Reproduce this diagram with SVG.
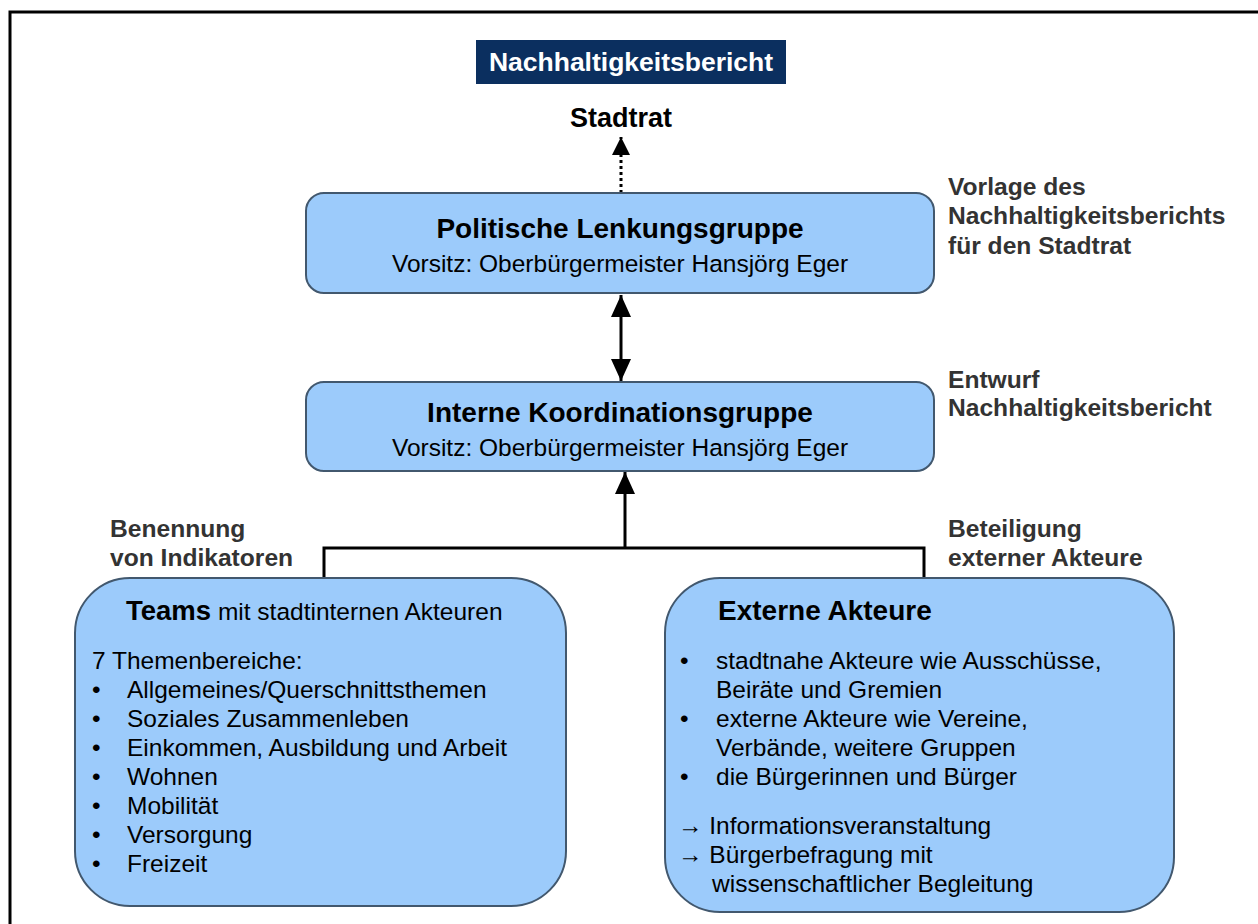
<svg xmlns="http://www.w3.org/2000/svg" width="1258" height="924" viewBox="0 0 1258 924">
<style>
.box{fill:#9ccbfb;stroke:#42586e;stroke-width:2}
.t{font-family:"Liberation Sans",Arial,sans-serif;fill:#000}
.b{font-weight:bold}
.h{font-size:28px;font-weight:bold}
.r{font-size:24.5px}
.lab{font-family:"Liberation Sans",Arial,sans-serif;font-size:24.6px;font-weight:bold;fill:#333}
.ln{stroke:#000;stroke-width:3;fill:none}
</style>
<defs>
<marker id="ah" viewBox="0 0 22 20" refX="22" refY="10" markerWidth="22" markerHeight="20" markerUnits="userSpaceOnUse" orient="auto-start-reverse">
<path d="M0,0 L22,10 L0,20 z" fill="#000"/>
</marker>
<marker id="ahs" viewBox="0 0 18 18" refX="18" refY="9" markerWidth="18" markerHeight="18" markerUnits="userSpaceOnUse" orient="auto-start-reverse">
<path d="M0,0 L18,9 L0,18 z" fill="#000"/>
</marker>
</defs>
<rect width="1258" height="924" fill="#fff"/>
<path d="M10,924 V12 H1258" fill="none" stroke="#000" stroke-width="3"/>

<g id="title">
<rect x="476" y="40" width="310" height="44" fill="#0b2f5f"/>
<text class="t b" x="631" y="71" text-anchor="middle" style="fill:#fff;font-size:26.5px">Nachhaltigkeitsbericht</text>
</g>
<g id="stadtrat">
<text class="t h" x="621" y="127" text-anchor="middle" style="font-size:27px">Stadtrat</text>
</g>

<g id="connectors">
<line x1="621" y1="193" x2="621" y2="137" stroke="#000" stroke-width="3" stroke-dasharray="3,3" marker-end="url(#ahs)"/>
<line x1="621" y1="295" x2="621" y2="381" class="ln" marker-start="url(#ah)" marker-end="url(#ah)"/>
<line x1="625" y1="548" x2="625" y2="472" class="ln" marker-end="url(#ah)"/>
<path class="ln" d="M324,578 V548 H924 V578"/>
</g>

<g id="politische">
<rect class="box" x="306" y="193" width="628" height="100" rx="18"/>
<text class="t h" x="620" y="238" text-anchor="middle">Politische Lenkungsgruppe</text>
<text class="t r" x="620" y="272" text-anchor="middle">Vorsitz: Oberbürgermeister Hansjörg Eger</text>
</g>

<g id="interne">
<rect class="box" x="306" y="382" width="628" height="89" rx="18"/>
<text class="t h" x="620" y="422" text-anchor="middle">Interne Koordinationsgruppe</text>
<text class="t r" x="620" y="456" text-anchor="middle">Vorsitz: Oberbürgermeister Hansjörg Eger</text>
</g>

<g id="label-vorlage">
<text class="lab" x="948" y="195">Vorlage des</text>
<text class="lab" x="948" y="224">Nachhaltigkeitsberichts</text>
<text class="lab" x="948" y="254">für den Stadtrat</text>
</g>
<g id="label-entwurf">
<text class="lab" x="948" y="388">Entwurf</text>
<text class="lab" x="948" y="416">Nachhaltigkeitsbericht</text>
</g>
<g id="label-benennung">
<text class="lab" x="110" y="537">Benennung</text>
<text class="lab" x="110" y="566">von Indikatoren</text>
</g>
<g id="label-beteiligung">
<text class="lab" x="948" y="537">Beteiligung</text>
<text class="lab" x="948" y="566">externer Akteure</text>
</g>

<g id="teams">
<rect class="box" x="75" y="578" width="491" height="328" rx="55"/>
<text class="t r" x="126" y="620"><tspan class="b" style="font-size:27.5px">Teams</tspan> mit stadtinternen Akteuren</text>
<text class="t r" x="92" y="669">7 Themenbereiche:</text>
<g class="t r">
<text x="92" y="698">•</text><text x="127" y="698">Allgemeines/Querschnittsthemen</text>
<text x="92" y="727">•</text><text x="127" y="727">Soziales Zusammenleben</text>
<text x="92" y="756">•</text><text x="127" y="756">Einkommen, Ausbildung und Arbeit</text>
<text x="92" y="785">•</text><text x="127" y="785">Wohnen</text>
<text x="92" y="814">•</text><text x="127" y="814">Mobilität</text>
<text x="92" y="843">•</text><text x="127" y="843">Versorgung</text>
<text x="92" y="872">•</text><text x="127" y="872">Freizeit</text>
</g>
</g>

<g id="externe">
<rect class="box" x="665" y="578" width="509" height="334" rx="55"/>
<text class="t h" x="718" y="620">Externe Akteure</text>
<g class="t r">
<text x="680" y="669">•</text><text x="716" y="669">stadtnahe Akteure wie Ausschüsse,</text>
<text x="716" y="698">Beiräte und Gremien</text>
<text x="680" y="727">•</text><text x="716" y="727">externe Akteure wie Vereine,</text>
<text x="716" y="756">Verbände, weitere Gruppen</text>
<text x="680" y="785">•</text><text x="716" y="785">die Bürgerinnen und Bürger</text>
<text x="678" y="834">→ Informationsveranstaltung</text>
<text x="678" y="863">→ Bürgerbefragung mit</text>
<text x="712" y="892">wissenschaftlicher Begleitung</text>
</g>
</g>
</svg>
